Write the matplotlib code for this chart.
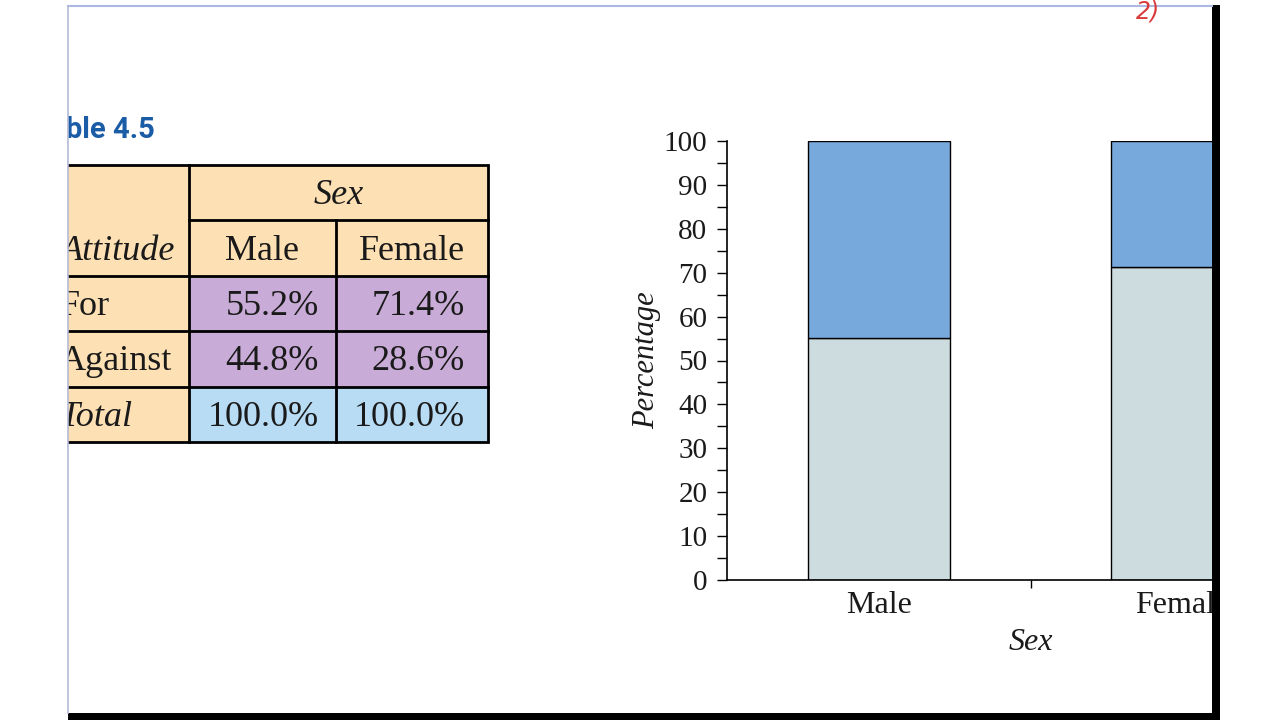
"""Slide capture: Table 4.5 (attitude by sex) next to a stacked percentage bar chart."""

import matplotlib
matplotlib.use('Agg')
import matplotlib.pyplot as plt
from matplotlib.patches import Rectangle
from matplotlib.ticker import MultipleLocator

# ── data ──
sexes = ['Male', 'Female']
attitudes = ['For', 'Against']
pct_for = [55.2, 71.4]
pct_against = [44.8, 28.6]
pct_total = [a + b for a, b in zip(pct_for, pct_against)]

PEACH = '#fde0b3'
LAVENDER = '#c9abd7'
LIGHTBLUE = '#b8dcf4'
BAR_FOR = '#cddcdf'
BAR_AGAINST = '#78a9dd'
TITLE_BLUE = '#1b5ca6'

SERIF = ['Liberation Serif', 'DejaVu Serif']

fig = plt.figure(figsize=(12.8, 7.2), dpi=100)
fig.patch.set_facecolor('white')

# background axes in pixel coords for the table
bg = fig.add_axes([0, 0, 1, 1])
bg.set_xlim(0, 1280)
bg.set_ylim(720, 0)
bg.axis('off')

col_x = [20, 189, 336, 488]
row_y = [165, 220, 276, 331, 387, 442]

# cell fills
bg.add_patch(Rectangle((col_x[0], row_y[0]), col_x[3] - col_x[0], row_y[2] - row_y[0], fc=PEACH, ec='none'))
bg.add_patch(Rectangle((col_x[0], row_y[0]), col_x[1] - col_x[0], row_y[5] - row_y[0], fc=PEACH, ec='none'))
bg.add_patch(Rectangle((col_x[1], row_y[2]), col_x[3] - col_x[1], row_y[4] - row_y[2], fc=LAVENDER, ec='none'))
bg.add_patch(Rectangle((col_x[1], row_y[4]), col_x[3] - col_x[1], row_y[5] - row_y[4], fc=LIGHTBLUE, ec='none'))

# grid lines
lw = 2.0
bg.add_patch(Rectangle((col_x[0], row_y[0]), col_x[3] - col_x[0], row_y[5] - row_y[0], fc='none', ec='black', lw=lw))
bg.plot([col_x[1], col_x[1]], [row_y[0], row_y[5]], color='black', lw=lw)
bg.plot([col_x[2], col_x[2]], [row_y[1], row_y[5]], color='black', lw=lw)
bg.plot([col_x[1], col_x[3]], [row_y[1], row_y[1]], color='black', lw=lw)
for y in row_y[2:5]:
    bg.plot([col_x[0], col_x[3]], [y, y], color='black', lw=lw)

TFS = 26
TXT = '#1a1a1a'
mid = lambda i: (row_y[i] + row_y[i + 1]) / 2 + 3
bg.text((col_x[1] + col_x[3]) / 2, mid(0), 'Sex', family=SERIF, style='italic', fontsize=TFS,
        color=TXT, ha='center', va='center')
for j, s in enumerate(sexes):
    bg.text((col_x[j + 1] + col_x[j + 2]) / 2, mid(1), s, family=SERIF, fontsize=TFS,
            color=TXT, ha='center', va='center')
bg.text(61, mid(1), 'Attitude', family=SERIF, style='italic', fontsize=TFS, color=TXT, ha='left', va='center')

right_pad = [17, 23]
rows = [pct_for, pct_against, pct_total]
labels = attitudes + ['Total']
for i, (lab, vals) in enumerate(zip(labels, rows)):
    bg.text(60, mid(i + 2), lab, family=SERIF, style='italic' if lab == 'Total' else 'normal',
            fontsize=TFS, color=TXT, ha='left', va='center')
    for j, v in enumerate(vals):
        bg.text(col_x[j + 2] - right_pad[j], mid(i + 2), f'{v:.1f}%', family=SERIF, fontsize=TFS,
                color=TXT, ha='right', va='center')

bg.text(155, 130, 'Table 4.5', family=['Roboto', 'DejaVu Sans'], fontweight='bold',
        fontsize=21, color=TITLE_BLUE, ha='right', va='center')

# ── stacked bar chart ──
ax = fig.add_axes([727 / 1280, 140 / 720, 607 / 1280, 439 / 720])
x = list(range(len(sexes)))
ax.bar(x, pct_for, width=0.468, color=BAR_FOR, edgecolor='black', linewidth=1)
ax.bar(x, pct_against, bottom=pct_for, width=0.468, color=BAR_AGAINST, edgecolor='black', linewidth=1)
ax.set_xlim(-0.5, 1.5)
ax.set_ylim(0, 100)
ax.spines[['top', 'right']].set_visible(False)
for sp in ['left', 'bottom']:
    ax.spines[sp].set_linewidth(1.2)

ax.set_xticks(x)
ax.set_xticklabels(sexes, family=SERIF, fontsize=23, color=TXT)
ax.tick_params(axis='x', which='major', length=0, pad=8)
ax.set_xticks([0.5], minor=True)
ax.tick_params(axis='x', which='minor', length=6, width=1, direction='out')

ax.yaxis.set_major_locator(MultipleLocator(10))
ax.yaxis.set_minor_locator(MultipleLocator(5))
ax.tick_params(axis='y', which='both', length=7.2, width=1, direction='out', pad=7)
for t in ax.get_yticklabels():
    t.set_family(SERIF)
    t.set_fontsize(21)
    t.set_color(TXT)

ax.set_ylabel('Percentage', family=SERIF, style='italic', fontsize=22, color=TXT)
ax.yaxis.set_label_coords(-0.108, 0.5)
ax.set_xlabel('Sex', family=SERIF, style='italic', fontsize=23, color=TXT)
ax.xaxis.set_label_coords(0.5, -0.11)

# ── slide frame / capture masks ──
ov = fig.add_axes([0, 0, 1, 1], zorder=10)
ov.set_xlim(0, 1280)
ov.set_ylim(720, 0)
ov.axis('off')
ov.patch.set_visible(False)
ov.add_patch(Rectangle((0, 0), 68, 720, fc='white', ec='none'))
ov.add_patch(Rectangle((0, 0), 1280, 6, fc='white', ec='none'))
ov.add_patch(Rectangle((1220, 0), 60, 720, fc='white', ec='none'))
ov.add_patch(Rectangle((1212, 5), 8, 715, fc='black', ec='none'))
ov.add_patch(Rectangle((68, 713), 1152, 7, fc='black', ec='none'))
ov.plot([68, 1212], [6, 6], color='#aab8e2', lw=1.5)
ov.plot([68, 68], [6, 713], color='#b4bad6', lw=1.2)
ov.text(1136, 18, '2)', color='#d93a3a', fontsize=17, style='italic', ha='left', va='baseline')

fig.savefig('out.png', dpi=100)
